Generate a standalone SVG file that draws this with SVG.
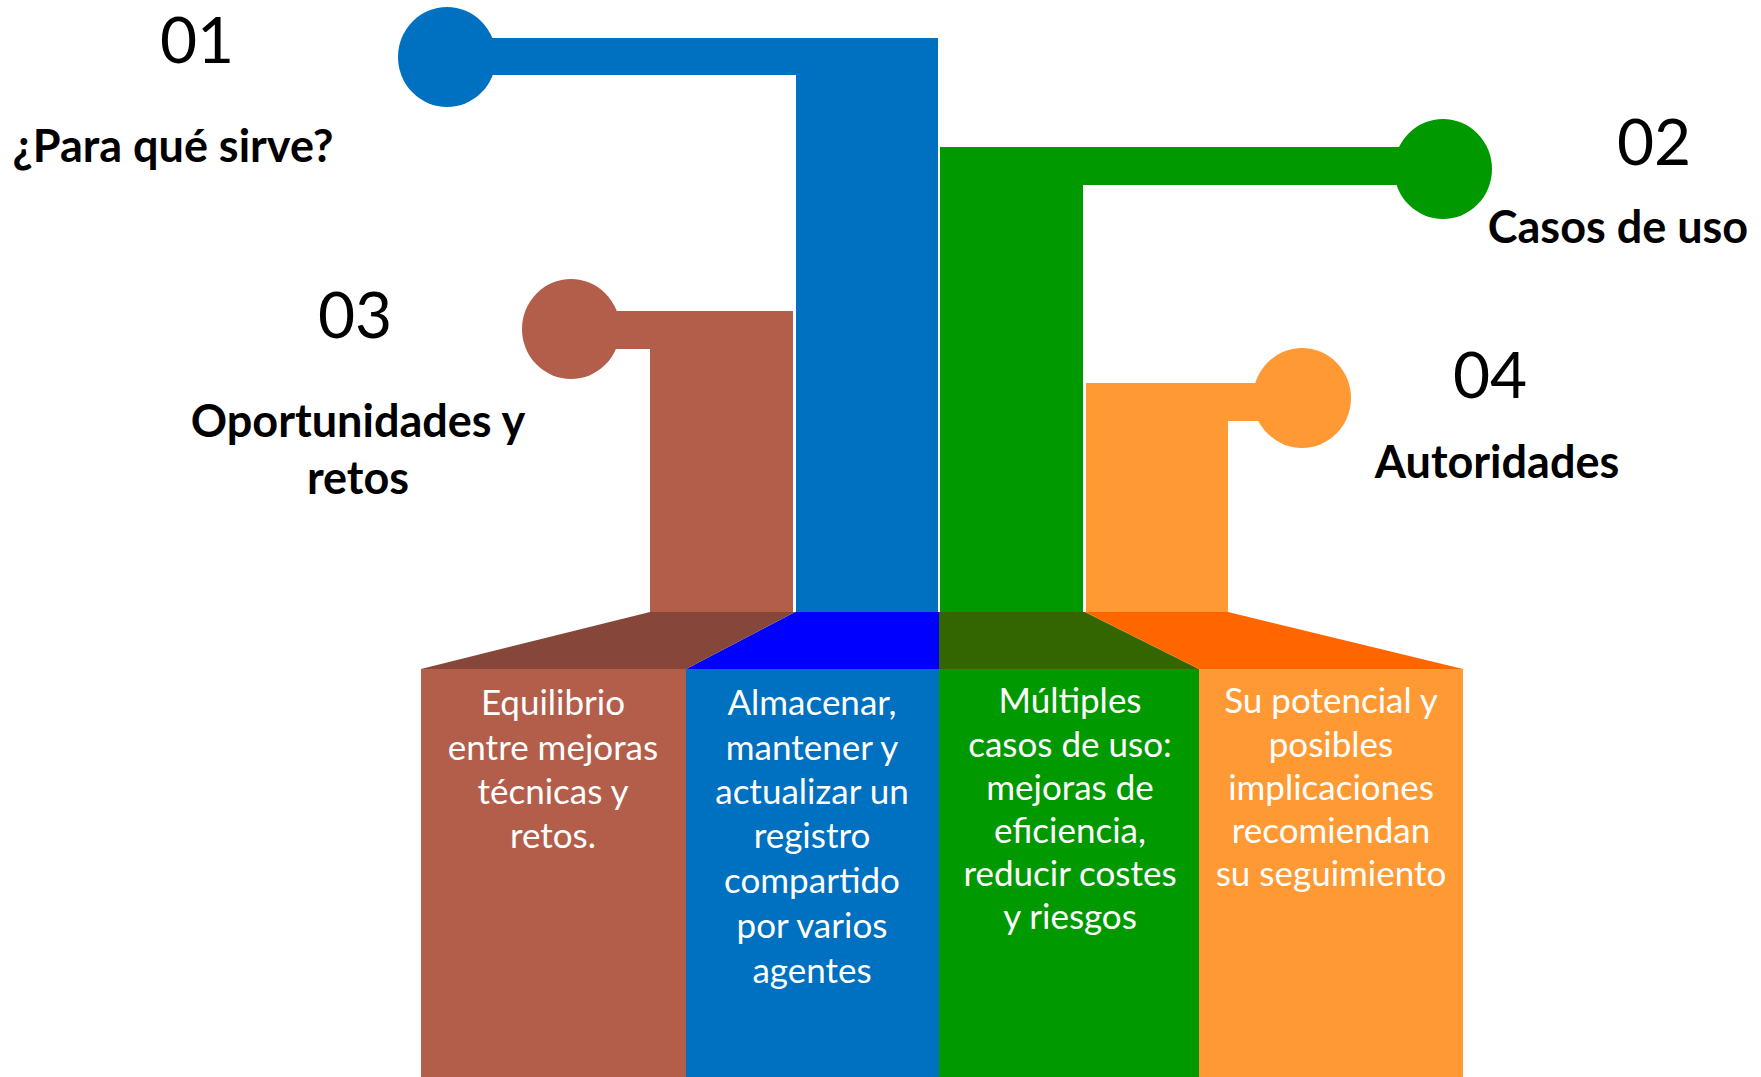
<svg xmlns="http://www.w3.org/2000/svg" width="1761" height="1077" viewBox="0 0 1761 1077">
<style>
.num{font-family:Lato,"Open Sans",sans-serif;font-size:64px;fill:#000;text-anchor:middle}
.ttl{font-family:Lato,"Open Sans",sans-serif;font-weight:bold;font-size:45px;fill:#000;text-anchor:middle}
.body{font-family:Lato,"Open Sans",sans-serif;font-size:35px;fill:#fff;text-anchor:middle}
</style>
<rect width="1761" height="1077" fill="#fff"/>
<g id="node-01">
  <polygon points="447,38 938,38 938,612 796,612 796,75 447,75" fill="#0070C0"/>
  <ellipse cx="447" cy="57" rx="49" ry="50" fill="#0070C0"/>
  <polygon points="795,612 939,612 939,669 686,669" fill="#0000FF"/>
  <rect x="686" y="669" width="253" height="408" fill="#0070C0"/>
  <text class="num" x="197" y="63">01</text>
  <text class="ttl" x="173" y="162">¿Para qué sirve?</text>
  <text class="body" x="812" y="715">Almacenar,</text>
  <text class="body" x="812" y="760">mantener y</text>
  <text class="body" x="812" y="804">actualizar un</text>
  <text class="body" x="812" y="848">registro</text>
  <text class="body" x="812" y="893">compartido</text>
  <text class="body" x="812" y="938">por varios</text>
  <text class="body" x="812" y="983">agentes</text>
</g>
<g id="node-02">
  <polygon points="940,147 1443,147 1443,185 1083,185 1083,612 940,612" fill="#009900"/>
  <ellipse cx="1443" cy="169" rx="49" ry="50" fill="#009900"/>
  <polygon points="939,612 1085,612 1199,669 939,669" fill="#336600"/>
  <rect x="939" y="669" width="260" height="408" fill="#009900"/>
  <text class="num" x="1654" y="165">02</text>
  <text class="ttl" x="1618" y="243">Casos de uso</text>
  <text class="body" x="1070" y="713">Múltiples</text>
  <text class="body" x="1070" y="757">casos de uso:</text>
  <text class="body" x="1070" y="800">mejoras de</text>
  <text class="body" x="1070" y="843">eficiencia,</text>
  <text class="body" x="1070" y="886">reducir costes</text>
  <text class="body" x="1070" y="929">y riesgos</text>
</g>
<g id="node-03">
  <polygon points="571,311 793,311 793,612 650,612 650,349 571,349" fill="#B35E4A"/>
  <ellipse cx="571" cy="329" rx="49" ry="50" fill="#B35E4A"/>
  <polygon points="650,612 795,612 686,669 421,669" fill="#86463A"/>
  <rect x="421" y="669" width="265" height="408" fill="#B35E4A"/>
  <text class="num" x="355" y="338">03</text>
  <text class="ttl" x="358" y="437">Oportunidades y</text>
  <text class="ttl" x="358" y="494">retos</text>
  <text class="body" x="553" y="715">Equilibrio</text>
  <text class="body" x="553" y="760">entre mejoras</text>
  <text class="body" x="553" y="804">técnicas y</text>
  <text class="body" x="553" y="848">retos.</text>
</g>
<g id="node-04">
  <polygon points="1086,383 1302,383 1302,421 1228,421 1228,612 1086,612" fill="#FF9933"/>
  <ellipse cx="1302" cy="398" rx="49" ry="50" fill="#FF9933"/>
  <polygon points="1085,612 1228,612 1463,669 1199,669" fill="#FF6600"/>
  <rect x="1199" y="669" width="264" height="408" fill="#FF9933"/>
  <text class="num" x="1490" y="398">04</text>
  <text class="ttl" x="1497" y="478">Autoridades</text>
  <text class="body" x="1331" y="713">Su potencial y</text>
  <text class="body" x="1331" y="757">posibles</text>
  <text class="body" x="1331" y="800">implicaciones</text>
  <text class="body" x="1331" y="843">recomiendan</text>
  <text class="body" x="1331" y="886">su seguimiento</text>
</g>
<g id="connectors"></g>
</svg>
